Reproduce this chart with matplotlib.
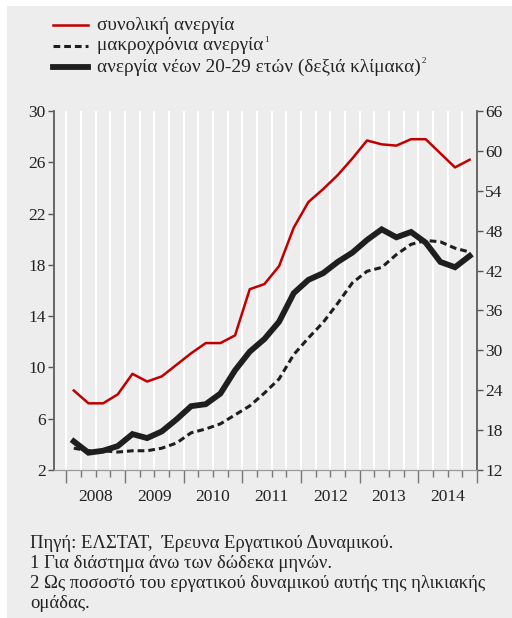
import matplotlib
matplotlib.use('Agg')
import matplotlib.pyplot as plt
import numpy as np
from matplotlib.lines import Line2D
from matplotlib.patches import Rectangle

# quarterly data, 2008Q1 - 2014Q4
years = [2008, 2009, 2010, 2011, 2012, 2013, 2014]
total_unemp = [8.2, 7.2, 7.2, 7.9, 9.5, 8.9, 9.3, 10.2, 11.1, 11.9, 11.9, 12.5,
               16.1, 16.5, 17.9, 20.9, 22.9, 23.9, 25.0, 26.3, 27.7, 27.4, 27.3, 27.8,
               27.8, 26.7, 25.6, 26.2]
longterm_unemp = [3.7, 3.5, 3.5, 3.4, 3.5, 3.5, 3.7, 4.1, 4.9, 5.2, 5.6, 6.3,
                  7.0, 8.0, 9.1, 11.0, 12.3, 13.5, 15.0, 16.6, 17.5, 17.8, 18.8, 19.6,
                  19.9, 19.8, 19.3, 19.0]
youth_unemp = [16.3, 14.6, 14.9, 15.6, 17.4, 16.8, 17.8, 19.6, 21.6, 21.9, 23.5, 27.0,
               29.8, 31.7, 34.3, 38.6, 40.6, 41.6, 43.3, 44.7, 46.6, 48.2, 47.0, 47.8,
               46.2, 43.3, 42.5, 44.2]
left_ticks = [2, 6, 10, 14, 18, 22, 26, 30]
right_ticks = [12, 18, 24, 30, 36, 42, 48, 54, 60, 66]

labels = ['συνολική ανεργία', 'μακροχρόνια ανεργία', 'ανεργία νέων 20-29 ετών (δεξιά κλίμακα)']
notes = ['Πηγή: ΕΛΣΤΑΤ,  Έρευνα Εργατικού Δυναμικού.',
         '1 Για διάστημα άνω των δώδεκα μηνών.',
         '2 Ως ποσοστό του εργατικού δυναμικού αυτής της ηλικιακής',
         'ομάδας.']

plt.rcParams['font.family'] = ['Liberation Serif', 'DejaVu Serif']

bg = '#ededed'
red = '#c00000'
dark = '#1e1e1e'

fig = plt.figure(figsize=(5.12, 6.18), dpi=100, facecolor='white')
fig.patches.append(Rectangle((7/512, 0), 1, 1 - 6/618, transform=fig.transFigure,
                             facecolor=bg, edgecolor='none', zorder=-10))

ax = fig.add_axes([54/512, 1 - 470/618, 423/512, 359/618])
ax.set_facecolor(bg)
ax2 = ax.twinx()

x = np.arange(len(total_unemp)) + 0.5

ax.plot(x, total_unemp, color=red, lw=1.8, zorder=3)
ax.plot(x, longterm_unemp, color=dark, lw=2.2, ls=(0, (2.2, 1.3)), zorder=3)
ax2.plot(x, youth_unemp, color=dark, lw=4.2, solid_joinstyle='miter', zorder=3)

ax.set_xlim(-0.85, len(total_unemp))
ax.set_ylim(2, 30)
ax2.set_ylim(12, 66)
ax.set_yticks(left_ticks)
ax2.set_yticks(right_ticks)

# white quarter gridlines
for q in range(0, len(total_unemp)):
    ax.axvline(q, color='white', lw=1.5, zorder=1)

ax.set_xticks(np.arange(0, len(total_unemp) + 1, 4))
ax.set_xticklabels([])
ax.set_xticks(np.arange(0, len(total_unemp) + 1), minor=True)
ax.tick_params(axis='x', which='major', length=9, width=1, color='#777777')
ax.tick_params(axis='x', which='minor', length=5, width=1, color='#777777')
for i, yr in enumerate(years):
    ax.text(i * 4 + 2, -0.075, str(yr), transform=ax.get_xaxis_transform(),
            ha='center', va='center', fontsize=12.5, color='#222222')

ax.tick_params(axis='y', length=4, width=1, color='#555555', labelsize=12.5,
               labelcolor='#222222', pad=2)
ax2.tick_params(axis='y', length=4, width=1, color='#555555', labelsize=12.5,
                labelcolor='#222222', pad=2)

for a in (ax, ax2):
    a.spines['top'].set_visible(False)
    a.spines['left'].set_color('#666666')
    a.spines['right'].set_color('#666666')
    a.spines['bottom'].set_color('#999999')
    a.spines['left'].set_linewidth(1.2)
    a.spines['right'].set_linewidth(1.2)

# legend drawn by hand
rows = [25, 46, 67]
styles = [dict(color=red, lw=1.8),
          dict(color=dark, lw=2.2, ls=(0, (2.2, 1.3))),
          dict(color=dark, lw=4.2)]
sups = [None, '1', '2']
fig.canvas.draw()
for yp, st, lab, sup in zip(rows, styles, labels, sups):
    yf = 1 - yp / 618
    fig.add_artist(Line2D([53/512, 88/512], [yf, yf], transform=fig.transFigure, **st))
    t = fig.text(97/512, yf, lab, ha='left', va='center', fontsize=13.9, color='#222222')
    if sup:
        bb = t.get_window_extent(renderer=fig.canvas.get_renderer())
        fig.text(bb.x1 / 512 + 0.002, yf + 0.004, sup, ha='left', va='bottom',
                 fontsize=6.5, color='#222222')

for i, n in enumerate(notes):
    fig.text(30/512, 1 - (544 + i * 20) / 618, n, ha='left', va='center',
             fontsize=13.4, color='#222222')

fig.savefig('out.png', dpi=100, facecolor='white')
